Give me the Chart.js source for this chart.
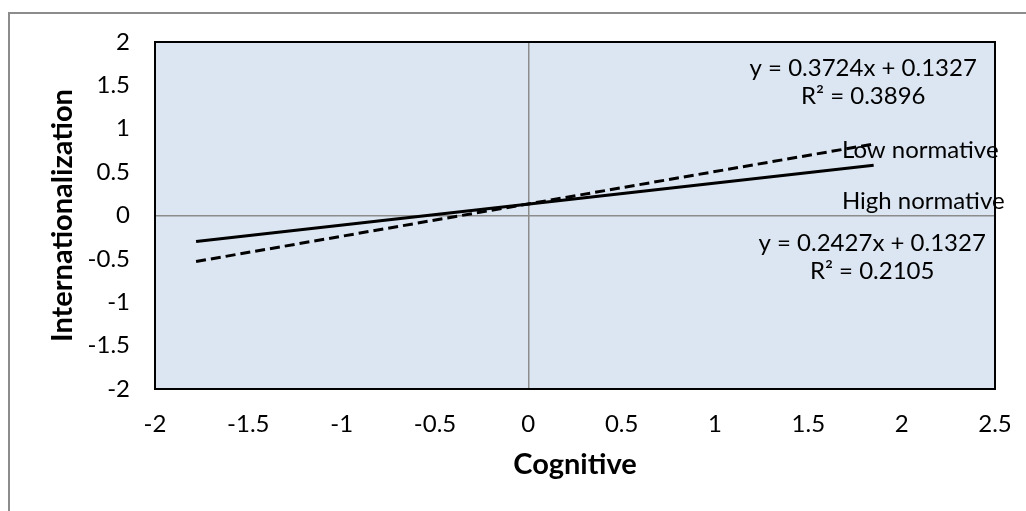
<!DOCTYPE html>
<html>
<head>
<meta charset="utf-8">
<script src="https://cdn.jsdelivr.net/npm/chart.js@4"></script>
<style>
  html, body { margin: 0; padding: 0; background: #fff; }
  #wrap { width: 1026px; height: 511px; position: relative; }
</style>
</head>
<body>
<div id="wrap"><canvas id="chart_1" width="1026" height="511"></canvas></div>
<script>
// data
const low_x = [-1.78, 1.84], low_y = [-0.53, 0.82];
const high_x = [-1.78, 1.85], high_y = [-0.30, 0.58];
const series_names = ['Low normative', 'High normative'];
const equations = ['y = 0.3724x + 0.1327', 'y = 0.2427x + 0.1327'];
const r_squared = ['R² = 0.3896', 'R² = 0.2105'];
const x_ticks = [-2, -1.5, -1, -0.5, 0, 0.5, 1, 1.5, 2, 2.5];
const y_ticks = [-2, -1.5, -1, -0.5, 0, 0.5, 1, 1.5, 2];

const FONT = 'Lato';

const to_points = (xs, ys) => xs.map((x, i) => ({x: x, y: ys[i]}));

// plot background, frame, outer border and the text labels
const decor = {
    id: 'decor',
    beforeDraw: chart => {
        const {ctx, chartArea: a} = chart;
        ctx.save();
        ctx.strokeStyle = '#8c8c8c';
        ctx.lineWidth = 2;
        ctx.strokeRect(9, 13, 1100, 600);
        ctx.fillStyle = '#dce6f2';
        ctx.fillRect(a.left, a.top, a.right - a.left, a.bottom - a.top);
        ctx.restore();
    },
    afterDraw: chart => {
        const {ctx, chartArea: a, scales} = chart;
        const sx = v => scales.x.getPixelForValue(v), sy = v => scales.y.getPixelForValue(v);
        ctx.save();
        ctx.strokeStyle = '#000';
        ctx.lineWidth = 2;
        ctx.strokeRect(a.left, a.top, a.right - a.left, a.bottom - a.top);
        ctx.fillStyle = '#000';
        ctx.font = '24px ' + FONT;
        ctx.textBaseline = 'middle';
        ctx.textAlign = 'left';
        ctx.fillText(series_names[0], sx(1.68), sy(0.75));
        ctx.fillText(series_names[1], sx(1.68), sy(0.16));
        ctx.textAlign = 'center';
        ctx.fillText(equations[0], sx(1.794), sy(1.70));
        ctx.fillText(r_squared[0], sx(1.794), sy(1.377));
        ctx.fillText(equations[1], sx(1.842), sy(-0.317));
        ctx.fillText(r_squared[1], sx(1.842), sy(-0.64));
        ctx.restore();
    }
};

const zero_line = c => c.tick && c.tick.value === 0 ? '#8c8c8c' : 'rgba(0,0,0,0)';
const plain = v => String(v);

const ctx = document.getElementById('chart_1').getContext('2d');
const chart = new Chart(ctx, {
    type: 'scatter',
    data: {
        datasets: [
            {
                label: series_names[0],
                data: to_points(low_x, low_y),
                showLine: true,
                borderColor: '#000',
                borderWidth: 3,
                borderDash: [10, 5],
                pointRadius: 0
            },
            {
                label: series_names[1],
                data: to_points(high_x, high_y),
                showLine: true,
                borderColor: '#000',
                borderWidth: 3,
                pointRadius: 0
            }
        ]
    },
    options: {
        responsive: false,
        animation: false,
        layout: {padding: {left: 0, top: 42, right: 31, bottom: 0}},
        plugins: {legend: {display: false}, tooltip: {enabled: false}},
        scales: {
            x: {
                type: 'linear',
                min: -2, max: 2.5,
                afterBuildTicks: s => { s.ticks = x_ticks.map(v => ({value: v})); },
                afterFit: s => { s.height = 122; s.paddingRight = 0; s.paddingLeft = 0; },
                grid: {color: zero_line, lineWidth: 1.5, drawTicks: false},
                border: {display: false},
                ticks: {color: '#000', font: {family: FONT, size: 24}, padding: 21, maxRotation: 0, autoSkip: false, callback: plain},
                title: {display: true, text: 'Cognitive', color: '#000', font: {family: FONT, size: 29, weight: 'bold'}, padding: {top: 0, bottom: 29}}
            },
            y: {
                type: 'linear',
                min: -2, max: 2,
                afterBuildTicks: s => { s.ticks = y_ticks.map(v => ({value: v})); },
                afterFit: s => { s.width = 155; },
                grid: {color: zero_line, lineWidth: 1.5, drawTicks: false},
                border: {display: false},
                ticks: {color: '#000', font: {family: FONT, size: 24}, padding: 25, autoSkip: false, callback: plain},
                title: {display: true, text: 'Internationalization', color: '#000', font: {family: FONT, size: 29, weight: 'bold'}, padding: {top: 45, bottom: 0}}
            }
        }
    },
    plugins: [decor]
});
</script>
</body>
</html>
